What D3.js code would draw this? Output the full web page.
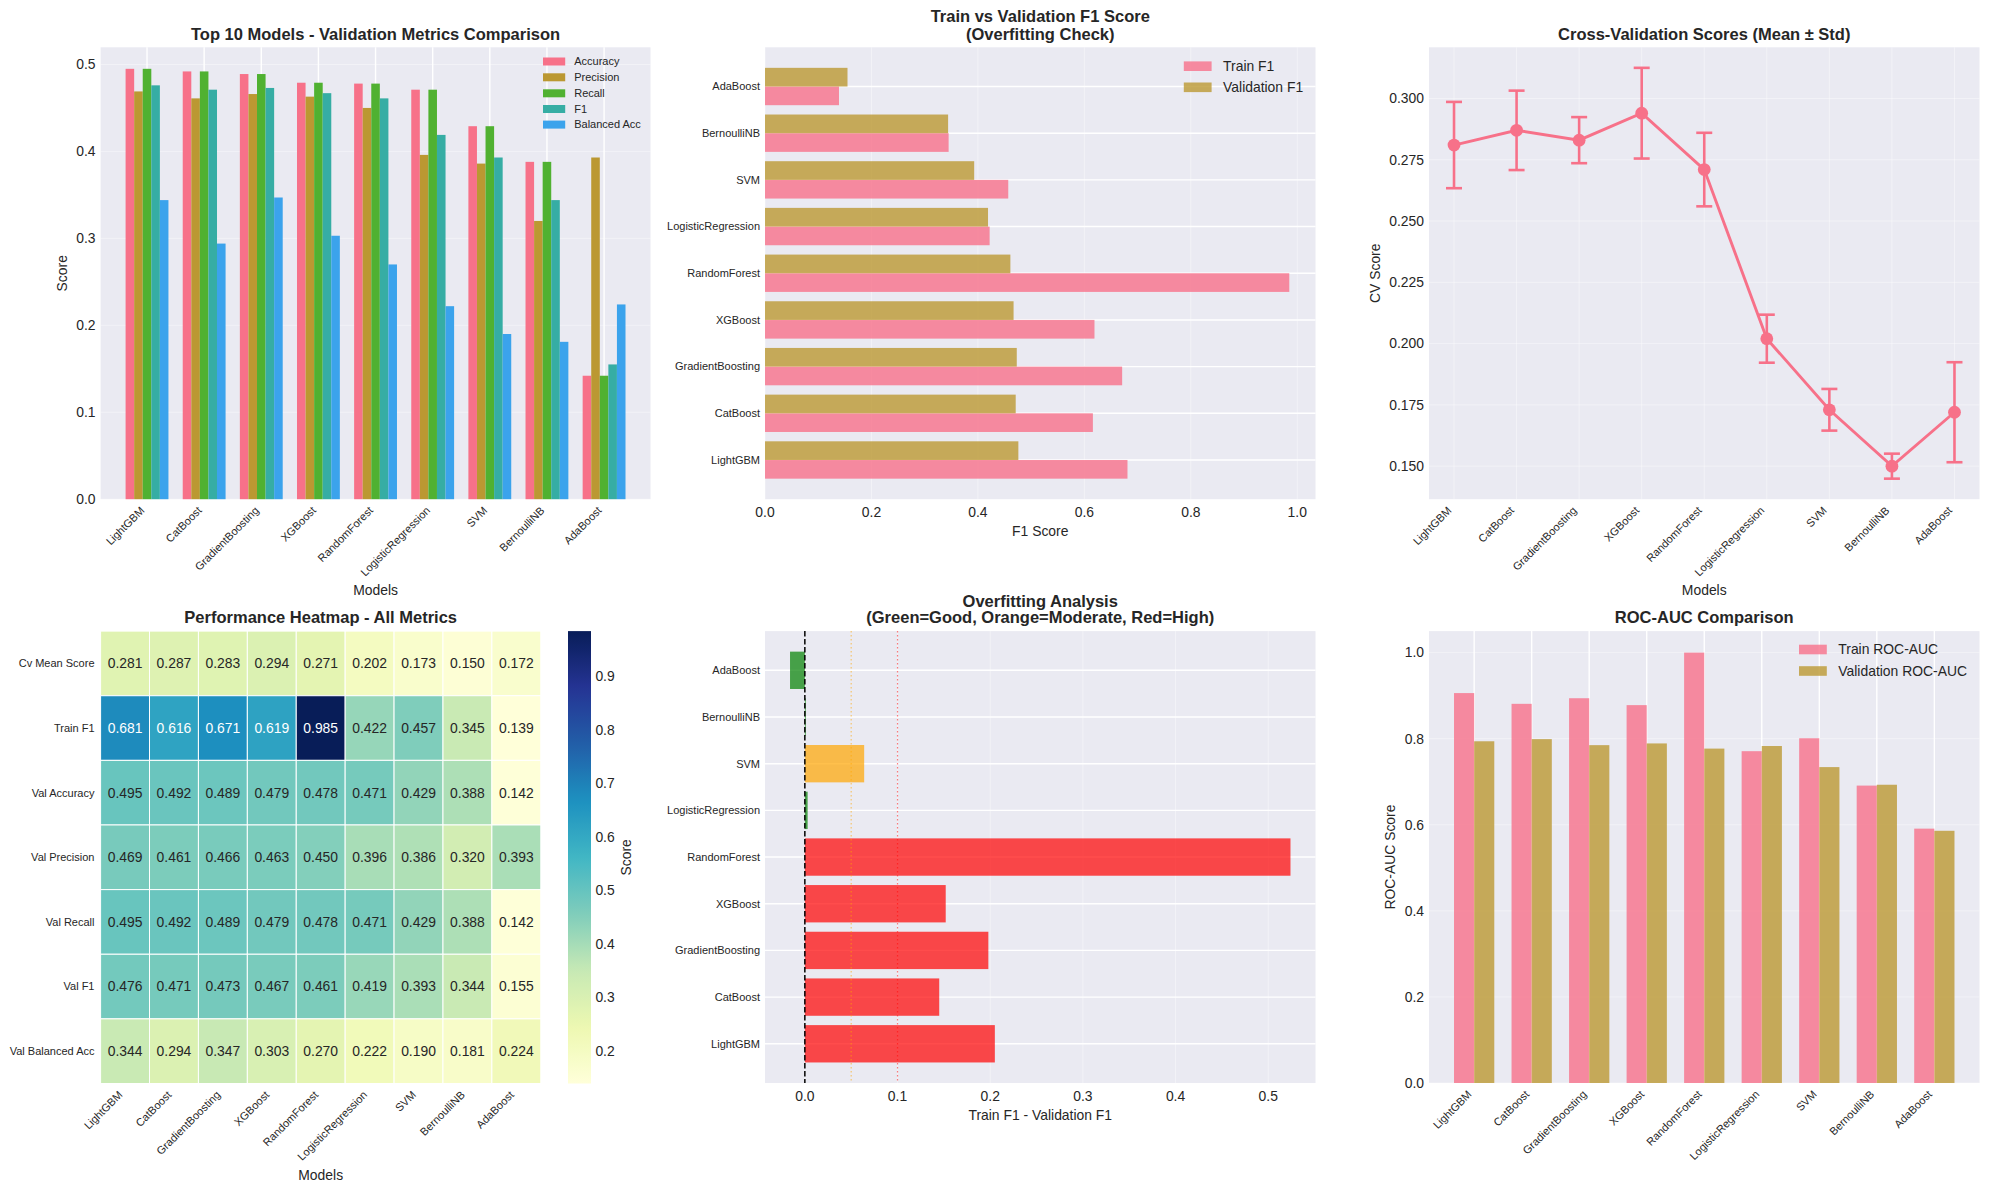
<!DOCTYPE html>
<html>
<head>
<meta charset="utf-8">
<script src="https://cdn.jsdelivr.net/npm/d3@7"></script>
<style>
  body { margin: 0; background: #ffffff; }
  svg text { font-family: "Liberation Sans", Arial, sans-serif; fill: #262626; }
</style>
</head>
<body>
<div id="chart"></div>
<script>
// ---- data ----
var models = ["LightGBM", "CatBoost", "GradientBoosting", "XGBoost", "RandomForest",
    "LogisticRegression", "SVM", "BernoulliNB", "AdaBoost"];

var valAccuracy = [0.495, 0.492, 0.489, 0.479, 0.478, 0.471, 0.429, 0.388, 0.142];
var valPrecision = [0.469, 0.461, 0.466, 0.463, 0.450, 0.396, 0.386, 0.320, 0.393];
var valRecall = [0.495, 0.492, 0.489, 0.479, 0.478, 0.471, 0.429, 0.388, 0.142];
var valF1 = [0.476, 0.471, 0.473, 0.467, 0.461, 0.419, 0.393, 0.344, 0.155];
var valBalancedAcc = [0.344, 0.294, 0.347, 0.303, 0.270, 0.222, 0.190, 0.181, 0.224];
var trainF1 = [0.681, 0.616, 0.671, 0.619, 0.985, 0.422, 0.457, 0.345, 0.139];

var cvMean = [0.281, 0.287, 0.283, 0.294, 0.271, 0.202, 0.173, 0.150, 0.172];
var cvStd = [0.0176, 0.0162, 0.0094, 0.0185, 0.0150, 0.0098, 0.0085, 0.0051, 0.0204];

var trainRocAuc = [0.906, 0.881, 0.894, 0.878, 1.000, 0.771, 0.801, 0.691, 0.591];
var valRocAuc = [0.794, 0.799, 0.785, 0.789, 0.777, 0.783, 0.734, 0.693, 0.586];

var metricNames = ["Accuracy", "Precision", "Recall", "F1", "Balanced Acc"];
var heatmapRows = ["Cv Mean Score", "Train F1", "Val Accuracy", "Val Precision", "Val Recall", "Val F1", "Val Balanced Acc"];

var goodThreshold = 0.05, highThreshold = 0.1;

// husl palette (seaborn)
var husl = ["#f77189", "#bb9832", "#50b131", "#36ada4", "#3ba3ec", "#e866f4"];
var BG = "#eaeaf2";

var svg = d3.select("#chart").append("svg")
    .attr("width", 1989)
    .attr("height", 1189);

svg.append("rect").attr("width", 1989).attr("height", 1189).attr("fill", "#ffffff");

function panelBg(box) {
    svg.append("rect")
        .attr("x", box.l).attr("y", box.t)
        .attr("width", box.r - box.l).attr("height", box.b - box.t)
        .attr("fill", BG);
    return svg.append("g");
}

function title(lines, cx, cy) {
    lines.forEach(function(line, i) {
        svg.append("text")
            .attr("x", cx).attr("y", cy[i])
            .attr("dy", "0.35em")
            .attr("text-anchor", "middle")
            .style("font-size", "16.5px")
            .style("font-weight", "bold")
            .text(line);
    });
}

function xLabel(text, cx, cy) {
    svg.append("text").attr("x", cx).attr("y", cy).attr("dy", "0.35em")
        .attr("text-anchor", "middle").style("font-size", "13.9px").text(text);
}

function yLabel(text, cx, cy) {
    svg.append("text")
        .attr("transform", "translate(" + cx + "," + cy + ") rotate(-90)")
        .attr("dy", "0.35em")
        .attr("text-anchor", "middle").style("font-size", "13.9px").text(text);
}

function vGrid(g, box, xs, values, strong) {
    g.selectAll(null).data(values).enter().append("line")
        .attr("x1", xs).attr("x2", xs)
        .attr("y1", box.t).attr("y2", box.b)
        .attr("stroke", "#ffffff")
        .attr("stroke-width", strong ? 1.4 : 1)
        .attr("stroke-opacity", strong ? 1 : 0.4);
}

function hGrid(g, box, ys, values, strong) {
    g.selectAll(null).data(values).enter().append("line")
        .attr("y1", ys).attr("y2", ys)
        .attr("x1", box.l).attr("x2", box.r)
        .attr("stroke", "#ffffff")
        .attr("stroke-width", strong ? 1.4 : 1)
        .attr("stroke-opacity", strong ? 1 : 0.4);
}

function leftTicks(g, box, scale, values, fmt, size) {
    g.selectAll(null).data(values).enter().append("text")
        .attr("x", box.l - 5)
        .attr("y", function(d) { return scale(d); })
        .attr("dy", "0.35em")
        .attr("text-anchor", "end")
        .style("font-size", size || "13.9px")
        .text(fmt);
}

function bottomTicks(g, box, scale, values, fmt) {
    g.selectAll(null).data(values).enter().append("text")
        .attr("x", function(d) { return scale(d); })
        .attr("y", box.b + 13)
        .attr("dy", "0.35em")
        .attr("text-anchor", "middle")
        .style("font-size", "13.9px")
        .text(fmt);
}

// rotated (45 deg) category labels, right aligned to the tick
function rotatedTicks(g, bottom, xs) {
    g.selectAll(null).data(models).enter().append("text")
        .attr("transform", function(d, i) {
            return "translate(" + (xs(i) - 1.8) + "," + (bottom + 12) + ") rotate(-45)";
        })
        .attr("text-anchor", "end")
        .style("font-size", "11px")
        .text(function(d) { return d; });
}

function legend(entries, x, ys, size, patchW, patchH, alpha) {
    entries.forEach(function(e, i) {
        svg.append("rect")
            .attr("x", x).attr("y", ys[i] - patchH / 2)
            .attr("width", patchW).attr("height", patchH)
            .attr("fill", e.color).attr("fill-opacity", alpha);
        svg.append("text")
            .attr("x", x + patchW + (size > 12 ? 11.5 : 9)).attr("y", ys[i])
            .attr("dy", "0.35em")
            .style("font-size", size + "px")
            .text(e.label);
    });
}

// ================= Panel 1: grouped bars =================
(function() {
    var box = {l: 100.6, r: 650.5, t: 47.3, b: 499.2};
    var g = panelBg(box);
    var series = [valAccuracy, valPrecision, valRecall, valF1, valBalancedAcc];
    var barW = 0.15;
    var lo = -barW / 2, hi = (models.length - 1) + 4 * barW + barW / 2;
    var pad = 0.05 * (hi - lo);
    var x = d3.scaleLinear().domain([lo - pad, hi + pad]).range([box.l, box.r]);
    var yMax = d3.max(series, function(s) { return d3.max(s); }) * 1.05;
    var y = d3.scaleLinear().domain([0, yMax]).range([box.b, box.t]);
    var tickX = function(i) { return x(i + 2 * barW); };

    hGrid(g, box, y, d3.range(0, 0.51, 0.1), false);
    vGrid(g, box, function(d, i) { return tickX(i); }, models, true);

    series.forEach(function(vals, k) {
        g.selectAll(null).data(vals).enter().append("rect")
            .attr("x", function(d, i) { return x(i + k * barW - barW / 2); })
            .attr("width", x(barW) - x(0))
            .attr("y", function(d) { return y(d); })
            .attr("height", function(d) { return y(0) - y(d); })
            .attr("fill", husl[k]);
    });

    leftTicks(g, box, y, d3.range(0, 0.51, 0.1), d3.format(".1f"));
    rotatedTicks(g, box.b, tickX);
    title(["Top 10 Models - Validation Metrics Comparison"], (box.l + box.r) / 2, [34.6]);
    xLabel("Models", (box.l + box.r) / 2, 590);
    yLabel("Score", 62, (box.t + box.b) / 2);
    legend(metricNames.map(function(m, k) { return {label: m, color: husl[k]}; }),
        543, [61.5, 77.3, 93.3, 109.0, 124.6], 11, 22.2, 8, 1);
})();

// ================= Panel 2: train vs val F1 =================
(function() {
    var box = {l: 765, r: 1315.5, t: 47.3, b: 499.2};
    var g = panelBg(box);
    var h = 0.4;
    var lo = -h, hi = models.length - 1 + h, pad = 0.05 * (hi - lo);
    var y = d3.scaleLinear().domain([lo - pad, hi + pad]).range([box.b, box.t]);
    var x = d3.scaleLinear().domain([0, d3.max(trainF1.concat(valF1)) * 1.05]).range([box.l, box.r]);
    var ticks = d3.range(0, 1.01, 0.2);

    vGrid(g, box, x, ticks, false);
    hGrid(g, box, function(d, i) { return y(i); }, models, true);

    g.selectAll(null).data(trainF1).enter().append("rect")
        .attr("x", x(0))
        .attr("y", function(d, i) { return y(i); })
        .attr("height", function(d, i) { return y(i - h) - y(i); })
        .attr("width", function(d) { return x(d) - x(0); })
        .attr("fill", husl[0]).attr("fill-opacity", 0.8);
    g.selectAll(null).data(valF1).enter().append("rect")
        .attr("x", x(0))
        .attr("y", function(d, i) { return y(i + h); })
        .attr("height", function(d, i) { return y(i) - y(i + h); })
        .attr("width", function(d) { return x(d) - x(0); })
        .attr("fill", husl[1]).attr("fill-opacity", 0.8);

    g.selectAll(null).data(models).enter().append("text")
        .attr("x", box.l - 5)
        .attr("y", function(d, i) { return y(i); })
        .attr("dy", "0.35em").attr("text-anchor", "end")
        .style("font-size", "11px")
        .text(function(d) { return d; });
    bottomTicks(g, box, x, ticks, d3.format(".1f"));
    title(["Train vs Validation F1 Score", "(Overfitting Check)"], (box.l + box.r) / 2, [16, 34.6]);
    xLabel("F1 Score", (box.l + box.r) / 2, 531.5);
    legend([{label: "Train F1", color: husl[0]}, {label: "Validation F1", color: husl[1]}],
        1183.8, [66.2, 87.3], 13.9, 27.8, 9.6, 0.8);
})();

// ================= Panel 3: CV scores with error bars =================
(function() {
    var box = {l: 1429, r: 1979.5, t: 47.3, b: 499.2};
    var g = panelBg(box);
    var x = d3.scaleLinear().domain([-0.4, models.length - 1 + 0.4]).range([box.l, box.r]);
    var lo = d3.min(cvMean, function(d, i) { return d - cvStd[i]; });
    var hi = d3.max(cvMean, function(d, i) { return d + cvStd[i]; });
    var pad = 0.05 * (hi - lo);
    var y = d3.scaleLinear().domain([lo - pad, hi + pad]).range([box.b, box.t]);
    var ticks = d3.range(0.15, 0.3001, 0.025);

    hGrid(g, box, y, ticks, false);
    vGrid(g, box, function(d, i) { return x(i); }, models, false);

    var color = husl[0];
    g.append("path")
        .datum(cvMean)
        .attr("d", d3.line().x(function(d, i) { return x(i); }).y(function(d) { return y(d); }))
        .attr("fill", "none").attr("stroke", color).attr("stroke-width", 2.9);

    var eb = g.selectAll(null).data(cvMean).enter().append("g");
    eb.append("line")
        .attr("x1", function(d, i) { return x(i); }).attr("x2", function(d, i) { return x(i); })
        .attr("y1", function(d, i) { return y(d - cvStd[i]); })
        .attr("y2", function(d, i) { return y(d + cvStd[i]); })
        .attr("stroke", color).attr("stroke-width", 2.6);
    [-1, 1].forEach(function(sign) {
        eb.append("line")
            .attr("x1", function(d, i) { return x(i) - 8; }).attr("x2", function(d, i) { return x(i) + 8; })
            .attr("y1", function(d, i) { return y(d + sign * cvStd[i]); })
            .attr("y2", function(d, i) { return y(d + sign * cvStd[i]); })
            .attr("stroke", color).attr("stroke-width", 2.6);
    });
    eb.append("circle")
        .attr("cx", function(d, i) { return x(i); })
        .attr("cy", function(d) { return y(d); })
        .attr("r", 6.4).attr("fill", color);

    leftTicks(g, box, y, ticks, d3.format(".3f"));
    rotatedTicks(g, box.b, function(i) { return x(i); });
    title(["Cross-Validation Scores (Mean \u00b1 Std)"], (box.l + box.r) / 2, [34.6]);
    xLabel("Models", (box.l + box.r) / 2, 590);
    yLabel("CV Score", 1375, (box.t + box.b) / 2);
})();

// ================= Panel 4: heatmap =================
(function() {
    var box = {l: 100.6, r: 540.8, t: 631.1, b: 1083.5};
    var rows = [cvMean, trainF1, valAccuracy, valPrecision, valRecall, valF1, valBalancedAcc];
    var all = d3.merge(rows);
    var vmin = d3.min(all), vmax = d3.max(all);
    var schemeCols = d3.schemeYlGnBu[9];
    var color = d3.scaleLinear()
        .domain(schemeCols.map(function(c, i) { return vmin + i * (vmax - vmin) / 8; }))
        .range(schemeCols)
        .interpolate(d3.interpolateRgb);
    var x = d3.scaleBand().domain(d3.range(models.length)).range([box.l, box.r]);
    var y = d3.scaleBand().domain(d3.range(heatmapRows.length)).range([box.t, box.b]);
    var g = svg.append("g");

    function luminance(c) {
        var rgb = d3.rgb(c);
        var f = function(v) { v /= 255; return v <= 0.03928 ? v / 12.92 : Math.pow((v + 0.055) / 1.055, 2.4); };
        return 0.2126 * f(rgb.r) + 0.7152 * f(rgb.g) + 0.0722 * f(rgb.b);
    }

    rows.forEach(function(vals, r) {
        var row = g.selectAll(null).data(vals).enter();
        row.append("rect")
            .attr("x", function(d, i) { return x(i); })
            .attr("y", y(r))
            .attr("width", x.bandwidth()).attr("height", y.bandwidth())
            .attr("fill", function(d) { return color(d); })
            .attr("stroke", "#ffffff").attr("stroke-width", 1);
        row.append("text")
            .attr("x", function(d, i) { return x(i) + x.bandwidth() / 2; })
            .attr("y", y(r) + y.bandwidth() / 2)
            .attr("dy", "0.35em").attr("text-anchor", "middle")
            .style("font-size", "13.9px")
            .style("fill", function(d) { return luminance(color(d)) > 0.408 ? "#262626" : "#ffffff"; })
            .text(function(d) { return d3.format(".3f")(d); });
    });

    g.selectAll(null).data(heatmapRows).enter().append("text")
        .attr("x", 94.5)
        .attr("y", function(d, i) { return y(i) + y.bandwidth() / 2; })
        .attr("dy", "0.35em").attr("text-anchor", "end")
        .style("font-size", "11px")
        .text(function(d) { return d; });
    rotatedTicks(g, box.b, function(i) { return x(i) + x.bandwidth() / 2; });

    // colorbar
    var cb = {l: 568, r: 591, t: box.t, b: box.b};
    var grad = svg.append("defs").append("linearGradient")
        .attr("id", "ylgnbu").attr("x1", 0).attr("y1", 1).attr("x2", 0).attr("y2", 0);
    d3.range(0, 1.001, 0.02).forEach(function(t) {
        grad.append("stop").attr("offset", t).attr("stop-color", color(vmin + t * (vmax - vmin)));
    });
    svg.append("rect").attr("x", cb.l).attr("y", cb.t)
        .attr("width", cb.r - cb.l).attr("height", cb.b - cb.t)
        .attr("fill", "url(#ylgnbu)");
    var cy = d3.scaleLinear().domain([vmin, vmax]).range([cb.b, cb.t]);
    svg.selectAll(null).data(d3.range(0.2, 0.901, 0.1)).enter().append("text")
        .attr("x", 595.4)
        .attr("y", function(d) { return cy(d); })
        .attr("dy", "0.35em")
        .style("font-size", "13.9px")
        .text(d3.format(".1f"));
    svg.append("text")
        .attr("transform", "translate(626," + ((cb.t + cb.b) / 2) + ") rotate(-90)")
        .attr("dy", "0.35em").attr("text-anchor", "middle")
        .style("font-size", "13.9px").text("Score");

    title(["Performance Heatmap - All Metrics"], (box.l + box.r) / 2, [617.6]);
    xLabel("Models", (box.l + box.r) / 2, 1175);
})();

// ================= Panel 5: overfitting analysis =================
(function() {
    var box = {l: 765, r: 1315.5, t: 631.1, b: 1083};
    var g = panelBg(box);
    var gap = trainF1.map(function(d, i) { return d - valF1[i]; });
    var lo = Math.min(0, d3.min(gap)), hi = Math.max(0, d3.max(gap)), pad = 0.05 * (hi - lo);
    var x = d3.scaleLinear().domain([lo - pad, hi + pad]).range([box.l, box.r]);
    var h = 0.8;
    var ylo = -h / 2, yhi = models.length - 1 + h / 2, ypad = 0.05 * (yhi - ylo);
    var y = d3.scaleLinear().domain([ylo - ypad, yhi + ypad]).range([box.b, box.t]);
    var ticks = d3.range(0, 0.501, 0.1);

    vGrid(g, box, x, ticks, false);
    hGrid(g, box, function(d, i) { return y(i); }, models, true);

    g.selectAll(null).data(gap).enter().append("rect")
        .attr("x", function(d) { return x(Math.min(0, d)); })
        .attr("width", function(d) { return Math.abs(x(d) - x(0)); })
        .attr("y", function(d, i) { return y(i + h / 2); })
        .attr("height", function(d, i) { return y(i - h / 2) - y(i + h / 2); })
        .attr("fill", function(d) { return d < goodThreshold ? "green" : (d < highThreshold ? "orange" : "red"); })
        .attr("fill-opacity", 0.7);

    g.append("line").attr("x1", x(0)).attr("x2", x(0)).attr("y1", box.t).attr("y2", box.b)
        .attr("stroke", "#000000").attr("stroke-width", 1.5).attr("stroke-dasharray", "5.5,2.5");
    g.append("line").attr("x1", x(goodThreshold)).attr("x2", x(goodThreshold)).attr("y1", box.t).attr("y2", box.b)
        .attr("stroke", "orange").attr("stroke-opacity", 0.55).attr("stroke-width", 1.2).attr("stroke-dasharray", "1.5,2.5");
    g.append("line").attr("x1", x(highThreshold)).attr("x2", x(highThreshold)).attr("y1", box.t).attr("y2", box.b)
        .attr("stroke", "red").attr("stroke-opacity", 0.5).attr("stroke-width", 1.2).attr("stroke-dasharray", "1.5,2.5");

    g.selectAll(null).data(models).enter().append("text")
        .attr("x", box.l - 5)
        .attr("y", function(d, i) { return y(i); })
        .attr("dy", "0.35em").attr("text-anchor", "end")
        .style("font-size", "11px")
        .text(function(d) { return d; });
    bottomTicks(g, box, x, ticks, d3.format(".1f"));
    title(["Overfitting Analysis", "(Green=Good, Orange=Moderate, Red=High)"], (box.l + box.r) / 2, [600.8, 617.6]);
    xLabel("Train F1 - Validation F1", (box.l + box.r) / 2, 1115);
})();

// ================= Panel 6: ROC-AUC =================
(function() {
    var box = {l: 1429, r: 1979.5, t: 631.1, b: 1083};
    var g = panelBg(box);
    var w = 0.35;
    var lo = -w, hi = models.length - 1 + w, pad = 0.05 * (hi - lo);
    var x = d3.scaleLinear().domain([lo - pad, hi + pad]).range([box.l, box.r]);
    var y = d3.scaleLinear().domain([0, d3.max(trainRocAuc.concat(valRocAuc)) * 1.05]).range([box.b, box.t]);
    var ticks = d3.range(0, 1.01, 0.2);

    hGrid(g, box, y, ticks, false);
    vGrid(g, box, function(d, i) { return x(i); }, models, true);

    [[trainRocAuc, -1, husl[0]], [valRocAuc, 0, husl[1]]].forEach(function(s) {
        g.selectAll(null).data(s[0]).enter().append("rect")
            .attr("x", function(d, i) { return x(i + s[1] * w); })
            .attr("width", x(w) - x(0))
            .attr("y", function(d) { return y(d); })
            .attr("height", function(d) { return y(0) - y(d); })
            .attr("fill", s[2]).attr("fill-opacity", 0.8);
    });

    leftTicks(g, box, y, ticks, d3.format(".1f"));
    rotatedTicks(g, box.b, function(i) { return x(i); });
    title(["ROC-AUC Comparison"], (box.l + box.r) / 2, [617.6]);
    yLabel("ROC-AUC Score", 1389.7, (box.t + box.b) / 2);
    legend([{label: "Train ROC-AUC", color: husl[0]}, {label: "Validation ROC-AUC", color: husl[1]}],
        1799, [649.5, 671], 13.9, 27.8, 9.6, 0.8);
})();
</script>
</body>
</html>
